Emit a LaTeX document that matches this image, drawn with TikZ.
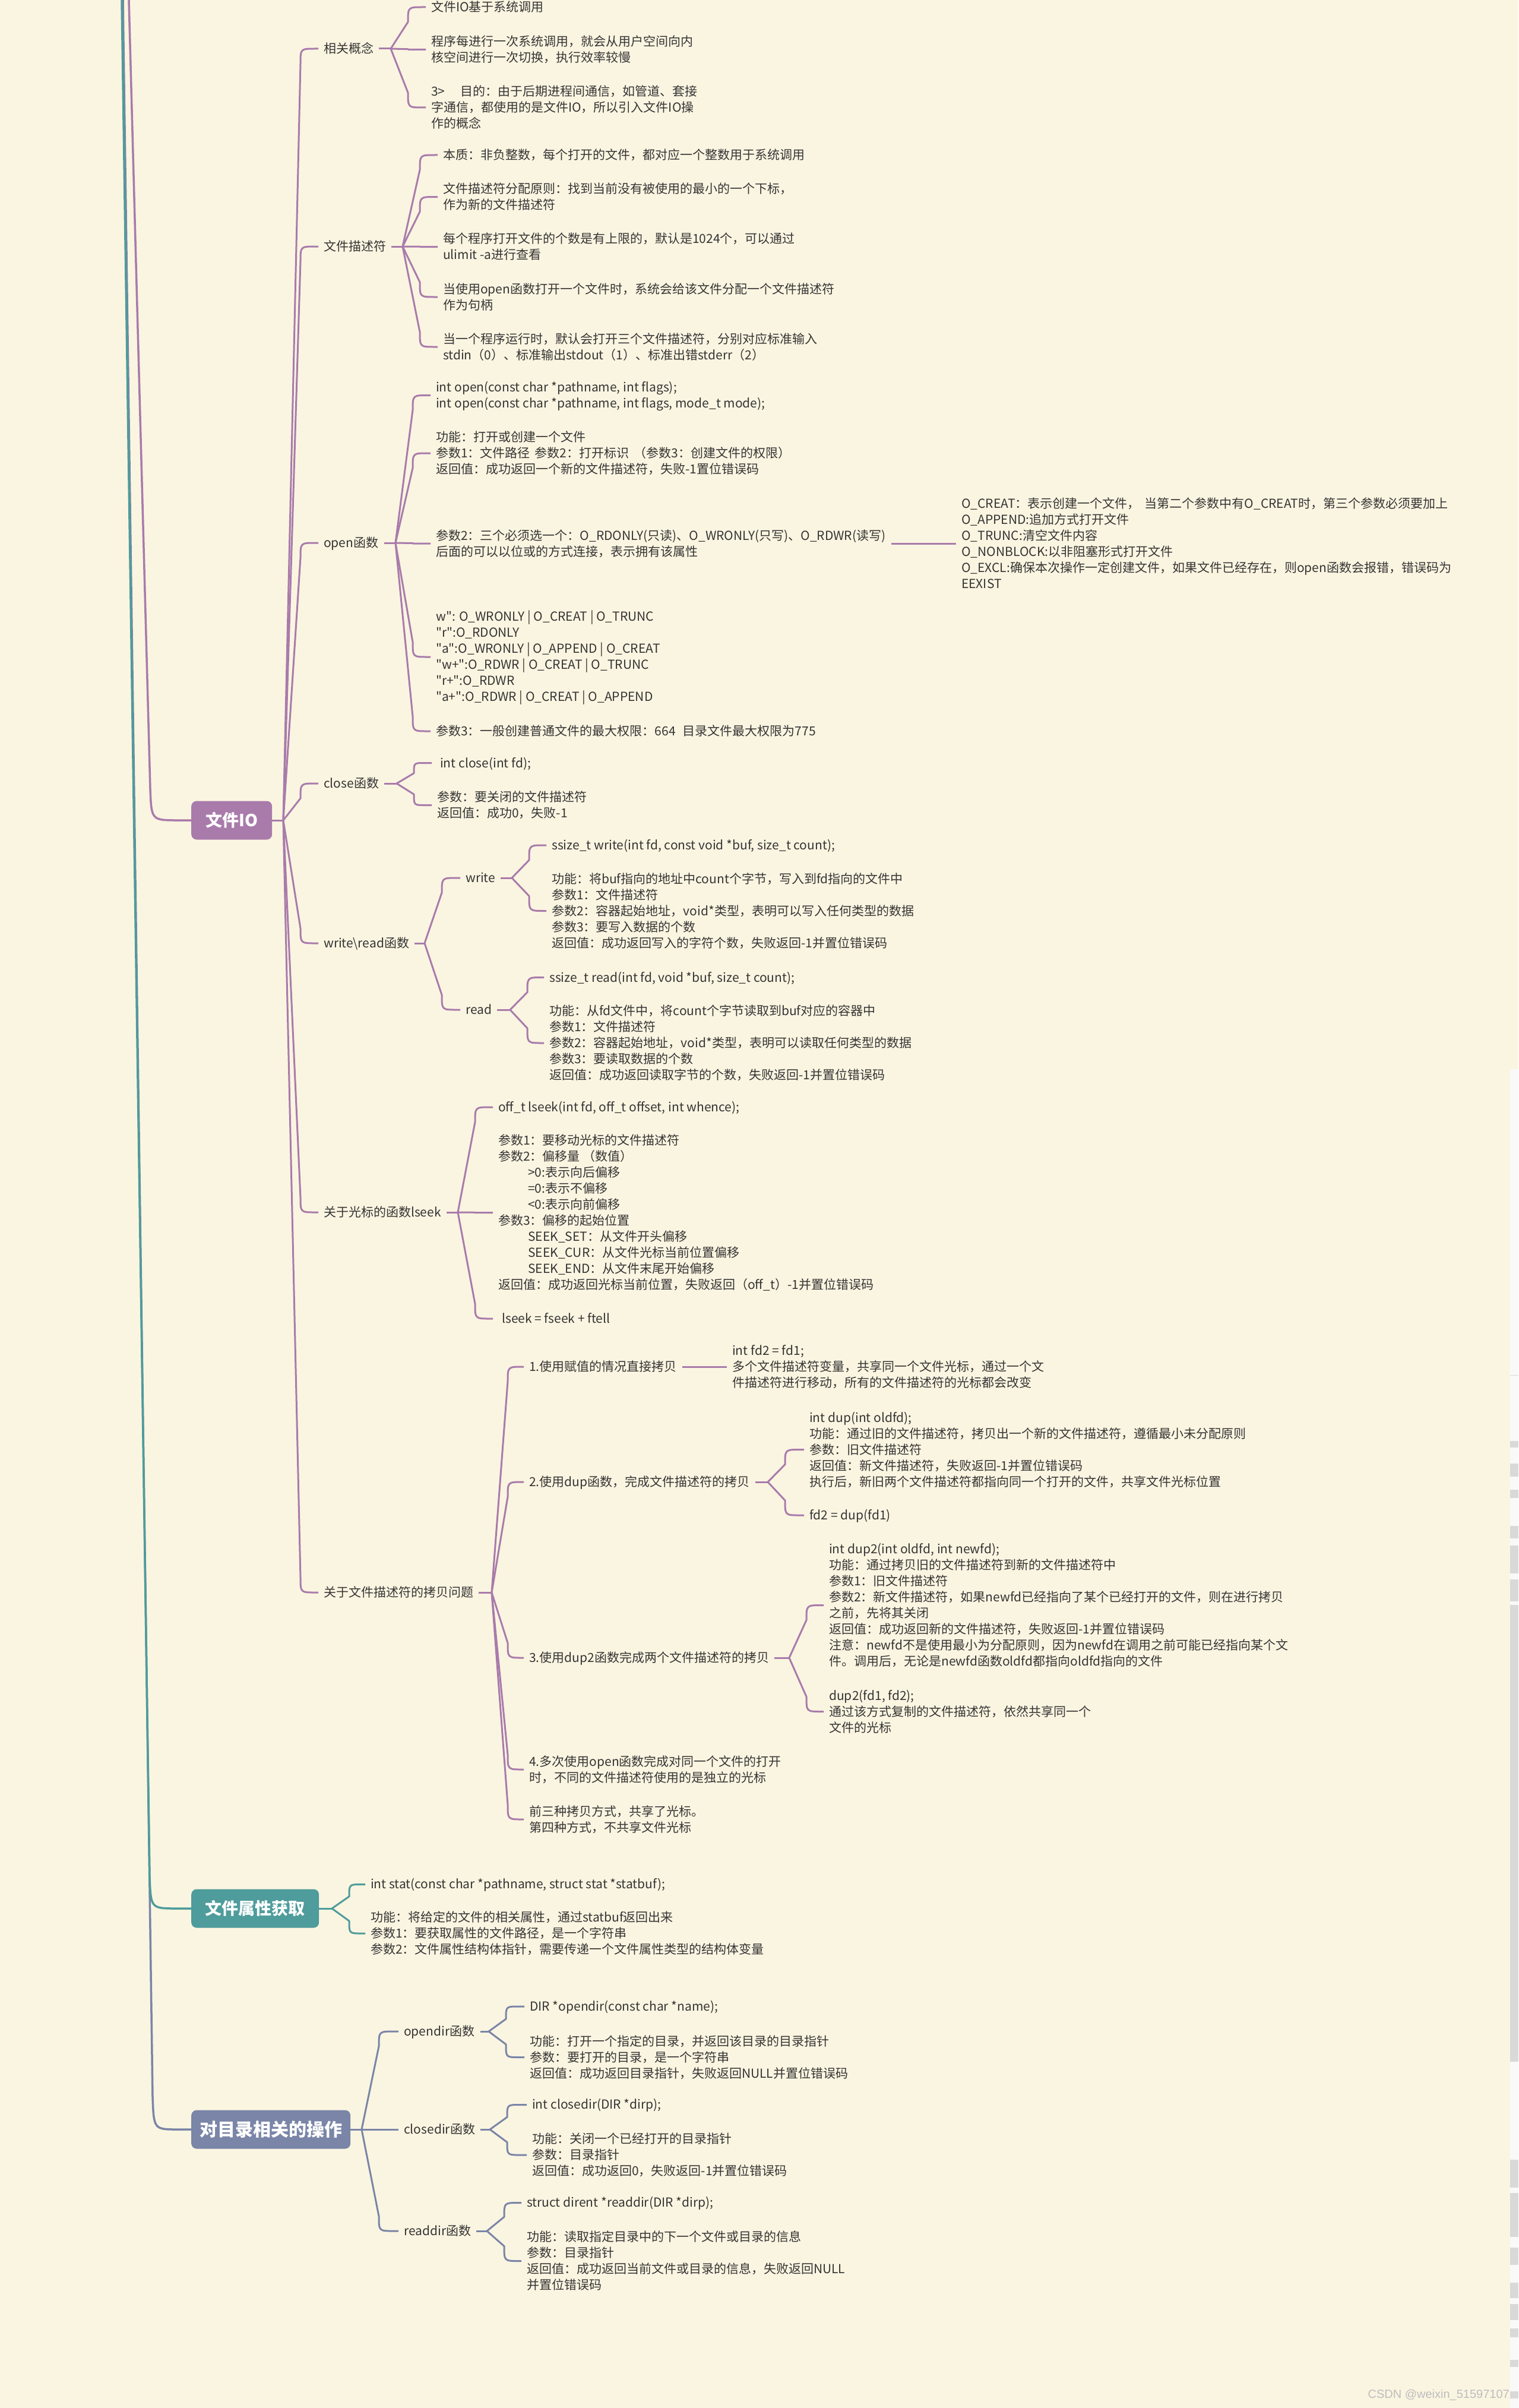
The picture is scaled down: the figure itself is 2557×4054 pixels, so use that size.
\documentclass[tikz,border=0pt]{standalone}
\usepackage{fontspec}
\setmainfont{Noto Sans CJK SC}[Ligatures=TeXOff]
\newfontfamily\wmfont{Liberation Sans}
\usetikzlibrary{calc}
\definecolor{bgc}{HTML}{FAF5E1}
\definecolor{pur}{HTML}{A97BAB}
\definecolor{tea}{HTML}{4E9C9B}
\definecolor{sla}{HTML}{7A85A7}
\definecolor{txc}{HTML}{363434}
\definecolor{wmc}{HTML}{BDBDBD}
\definecolor{stripc}{HTML}{F9F9F9}
\definecolor{barc}{HTML}{D9D9D9}
\newcommand\mySt{\rule[-4.5pt]{0pt}{24pt}}
\newcommand\myNL{\\\mySt}
\newcommand\fsz{\fontsize{21pt}{27pt}\selectfont}
\newcommand\rfsz{\fontsize{28pt}{32pt}\selectfont\bfseries}
\newcommand\rfszb{\fontsize{30pt}{32pt}\selectfont\bfseries}
\newcommand\lk[4]{%
  \draw[#1] let \p1=(#2), \p2=(#3.west),
    \n1={min(25pt,abs(\y2-\y1)/2)*sign(\y2-\y1)},
    \n2={abs(\n1)} in
    (#2) -- (\x1+#4pt,\y2-\n1) .. controls (\x1+#4pt,\y2) .. (\x1+#4pt+\n2,\y2) -- (#3.west);}
\tikzset{
  tx/.style={anchor=west, align=left, inner xsep=9pt, inner ysep=0pt, font=\fsz, text=txc},
  rootn/.style={anchor=west, rounded corners=9pt, fill=#1, text=white, font=\rfsz, minimum height=65pt, inner sep=0pt},
  pl/.style={draw=pur, line width=3pt},
  tl/.style={draw=tea, line width=3pt},
  sl/.style={draw=sla, line width=3pt},
}
\begin{document}
\begin{tikzpicture}[x=1pt,y=-1pt,line join=round]
\useasboundingbox (0,0) rectangle (2557,4054);
\fill[bgc] (0,0) rectangle (2557,4054);
% right edge strip
\fill[stripc] (2543,1800) rectangle (2557,4054);
\draw[barc, line width=1pt] (2543,2315) -- (2557,2315);
\foreach \a/\b in {2426/2437,2464/2486,2508/2522,2569/2590,2602/2649,2659/2696,2702/3471,3636/3683,3692/3766,3784/3813,3843/3869,3879/3906,3920/3935,3973/3985,4026/4038}
  \fill[barc] (2543,\a) rectangle (2557,\b);

% root nodes
\node[rootn=pur, minimum width=136pt] (io) at (322,1381) {文件IO};
\node[rootn=tea, minimum width=215pt] (attr) at (322,3213) {文件属性获取};
\node[rootn=sla, minimum width=268pt, font=\rfszb] (dir) at (322,3585) {对目录相关的操作};

\coordinate (tP) at (217,0);
\coordinate (tT) at (205,0);
\coordinate (tS) at (207,0);
\draw[sla, line width=3.5pt] (tS) -- (257,3530) .. controls (259,3585) .. (300,3585) -- (dir.west);
\draw[tea, line width=3.5pt] (tT) -- (252,3160) .. controls (254,3213) .. (298,3213) -- (attr.west);
\draw[pur, line width=3.5pt] (tP) -- (253,1328) .. controls (255,1381) .. (300,1381) -- (io.west);

% ===== 文件IO =====
\coordinate (hIO) at (477,1381);
\draw[pl] (io.east) -- (hIO);
\node[tx] (A1) at (536,82) {\mySt 相关概念};
\node[tx] (A2) at (536,415) {\mySt 文件描述符};
\node[tx] (A3) at (536,914) {\mySt open函数};
\node[tx] (A4) at (536,1319) {\mySt close函数};
\node[tx] (A5) at (536,1588) {\mySt write\textbackslash read函数};
\node[tx] (A6) at (536,2041) {\mySt 关于光标的函数lseek};
\node[tx] (A7) at (536,2681) {\mySt 关于文件描述符的拷贝问题};
\foreach \c in {A1,A2,A3,A4,A5,A6,A7} {\lk{pl}{hIO}{\c}{29}}

% 相关概念
\coordinate (h1) at (658,82);
\draw[pl] (A1.east) -- (h1);
\node[tx] (a11) at (717,12) {\mySt 文件IO基于系统调用};
\node[tx] (a12) at (717,83.5) {\mySt 程序每进行一次系统调用，就会从用户空间向内\myNL 核空间进行一次切换，执行效率较慢};
\node[tx] (a13) at (717,181) {\mySt 3>\hspace{26pt}目的：由于后期进程间通信，如管道、套接\myNL 字通信，都使用的是文件IO，所以引入文件IO操\myNL 作的概念};
\foreach \c in {a11,a12,a13} {\lk{pl}{h1}{\c}{29}}

% 文件描述符
\coordinate (h2) at (678,415);
\draw[pl] (A2.east) -- (h2);
\node[tx] (a21) at (737,261) {\mySt 本质：非负整数，每个打开的文件，都对应一个整数用于系统调用};
\node[tx] (a22) at (737,331.5) {\mySt 文件描述符分配原则：找到当前没有被使用的最小的一个下标，\myNL 作为新的文件描述符};
\node[tx] (a23) at (737,415.5) {\mySt 每个程序打开文件的个数是有上限的，默认是1024个，可以通过\myNL ulimit -a进行查看};
\node[tx] (a24) at (737,500) {\mySt 当使用open函数打开一个文件时，系统会给该文件分配一个文件描述符\myNL 作为句柄};
\node[tx] (a25) at (737,584) {\mySt 当一个程序运行时，默认会打开三个文件描述符，分别对应标准输入\myNL stdin（0）、标准输出stdout（1）、标准出错stderr（2）};
\foreach \c in {a21,a22,a23,a24,a25} {\lk{pl}{h2}{\c}{29}}

% open函数
\coordinate (h3) at (666,914);
\draw[pl] (A3.east) -- (h3);
\node[tx] (C1) at (725,665.5) {\mySt int open(const char *pathname, int flags);\myNL int open(const char *pathname, int flags, mode\_t mode);};
\node[tx] (C2) at (725,763) {\mySt 功能：打开或创建一个文件\myNL 参数1：文件路径\hspace{8pt}参数2：打开标识\hspace{8pt}（参数3：创建文件的权限）\myNL 返回值：成功返回一个新的文件描述符，失败-1置位错误码};
\node[tx] (C3) at (725,915) {\mySt 参数2：三个必须选一个：O\_RDONLY(只读)、O\_WRONLY(只写)、O\_RDWR(读写)\myNL 后面的可以以位或的方式连接，表示拥有该属性};
\node[tx] (C4) at (725,1106) {\mySt w": O\_WRONLY | O\_CREAT | O\_TRUNC\myNL "r":O\_RDONLY\myNL "a":O\_WRONLY | O\_APPEND | O\_CREAT\myNL "w+":O\_RDWR | O\_CREAT | O\_TRUNC\myNL "r+":O\_RDWR\myNL "a+":O\_RDWR | O\_CREAT | O\_APPEND};
\node[tx] (C5) at (725,1231) {\mySt 参数3：一般创建普通文件的最大权限：664\hspace{12pt}目录文件最大权限为775};
\foreach \c in {C1,C2,C3,C4,C5} {\lk{pl}{h3}{\c}{29}}
\node[tx] (D) at (1610,915) {\mySt O\_CREAT：表示创建一个文件，\hspace{8pt}当第二个参数中有O\_CREAT时，第三个参数必须要加上\myNL O\_APPEND:追加方式打开文件\myNL O\_TRUNC:清空文件内容\myNL O\_NONBLOCK:以非阻塞形式打开文件\myNL O\_EXCL:确保本次操作一定创建文件，如果文件已经存在，则open函数会报错，错误码为\myNL EEXIST};
\draw[pl] (C3.east) -- (D.west);

% close函数
\coordinate (h4) at (668,1319);
\draw[pl] (A4.east) -- (h4);
\node[tx] (d1) at (727,1284.5) {\mySt \hspace{5pt}int close(int fd);};
\node[tx] (d2) at (727,1355.5) {\mySt 参数：要关闭的文件描述符\myNL 返回值：成功0，失败-1};
\foreach \c in {d1,d2} {\lk{pl}{h4}{\c}{29}}

% write/read
\coordinate (h5) at (715,1588);
\draw[pl] (A5.east) -- (h5);
\node[tx] (W) at (775,1478) {\mySt write};
\node[tx] (R) at (775,1700) {\mySt read};
\foreach \c in {W,R} {\lk{pl}{h5}{\c}{29}}
\coordinate (hw) at (862,1478);
\draw[pl] (W.east) -- (hw);
\node[tx] (w1) at (920,1423) {\mySt ssize\_t write(int fd, const void *buf, size\_t count);};
\node[tx] (w2) at (920,1533.5) {\mySt 功能：将buf指向的地址中count个字节，写入到fd指向的文件中\myNL 参数1：文件描述符\myNL 参数2：容器起始地址，void*类型，表明可以写入任何类型的数据\myNL 参数3：要写入数据的个数\myNL 返回值：成功返回写入的字符个数，失败返回-1并置位错误码};
\foreach \c in {w1,w2} {\lk{pl}{hw}{\c}{29}}
\coordinate (hr) at (859,1700);
\draw[pl] (R.east) -- (hr);
\node[tx] (r1) at (916,1645.5) {\mySt ssize\_t read(int fd, void *buf, size\_t count);};
\node[tx] (r2) at (916,1756) {\mySt 功能：从fd文件中，将count个字节读取到buf对应的容器中\myNL 参数1：文件描述符\myNL 参数2：容器起始地址，void*类型，表明可以读取任何类型的数据\myNL 参数3：要读取数据的个数\myNL 返回值：成功返回读取字节的个数，失败返回-1并置位错误码};
\foreach \c in {r1,r2} {\lk{pl}{hr}{\c}{29}}

% lseek
\coordinate (h6) at (771,2041);
\draw[pl] (A6.east) -- (h6);
\node[tx] (l1) at (830,1864) {\mySt off\_t lseek(int fd, off\_t offset, int whence);};
\node[tx] (l2) at (830,2041.5) {\mySt 参数1：要移动光标的文件描述符\myNL 参数2：偏移量 （数值）\myNL\hspace*{50pt}>0:表示向后偏移\myNL\hspace*{50pt}=0:表示不偏移\myNL\hspace*{50pt}<0:表示向前偏移\myNL 参数3：偏移的起始位置\myNL\hspace*{50pt}SEEK\_SET：从文件开头偏移\myNL\hspace*{50pt}SEEK\_CUR：从文件光标当前位置偏移\myNL\hspace*{50pt}SEEK\_END：从文件末尾开始偏移\myNL 返回值：成功返回光标当前位置，失败返回（off\_t）-1并置位错误码};
\node[tx] (l3) at (830,2220) {\mySt \hspace{6pt}lseek = fseek + ftell};
\foreach \c in {l1,l2,l3} {\lk{pl}{h6}{\c}{29}}

% 拷贝问题
\coordinate (h7) at (828,2681);
\draw[pl] (A7.east) -- (h7);
\node[tx] (B1) at (882,2301) {\mySt 1.使用赋值的情况直接拷贝};
\node[tx] (B2) at (882,2495) {\mySt 2.使用dup函数，完成文件描述符的拷贝};
\node[tx] (B3) at (882,2791) {\mySt 3.使用dup2函数完成两个文件描述符的拷贝};
\node[tx] (B4) at (882,2979) {\mySt 4.多次使用open函数完成对同一个文件的打开\myNL 时，不同的文件描述符使用的是独立的光标};
\node[tx] (B5) at (882,3063) {\mySt 前三种拷贝方式，共享了光标。\myNL 第四种方式，不共享文件光标};
\foreach \c in {B1,B2,B3,B4,B5} {\lk{pl}{h7}{\c}{27}}
\node[tx] (B1c) at (1224,2301) {\mySt int fd2 = fd1;\myNL 多个文件描述符变量，共享同一个文件光标，通过一个文\myNL 件描述符进行移动，所有的文件描述符的光标都会改变};
\draw[pl] (B1.east) -- (B1c.west);
\coordinate (hb2) at (1293,2495);
\draw[pl] (B2.east) -- (hb2);
\node[tx] (B2a) at (1354,2440.5) {\mySt int dup(int oldfd);\myNL 功能：通过旧的文件描述符，拷贝出一个新的文件描述符，遵循最小未分配原则\myNL 参数：旧文件描述符\myNL 返回值：新文件描述符，失败返回-1并置位错误码\myNL 执行后，新旧两个文件描述符都指向同一个打开的文件，共享文件光标位置};
\node[tx] (B2b) at (1354,2551) {\mySt fd2 = dup(fd1)};
\foreach \c in {B2a,B2b} {\lk{pl}{hb2}{\c}{29}}
\coordinate (hb3) at (1329,2791);
\draw[pl] (B3.east) -- (hb3);
\node[tx] (B3a) at (1387,2702.5) {\mySt int dup2(int oldfd, int newfd);\myNL 功能：通过拷贝旧的文件描述符到新的文件描述符中\myNL 参数1：旧文件描述符\myNL 参数2：新文件描述符，如果newfd已经指向了某个已经打开的文件，则在进行拷贝\myNL 之前，先将其关闭\myNL 返回值：成功返回新的文件描述符，失败返回-1并置位错误码\myNL 注意：newfd不是使用最小为分配原则，因为newfd在调用之前可能已经指向某个文\myNL 件。调用后，无论是newfd函数oldfd都指向oldfd指向的文件};
\node[tx] (B3b) at (1387,2881.5) {\mySt dup2(fd1, fd2);\myNL 通过该方式复制的文件描述符，依然共享同一个\myNL 文件的光标};
\foreach \c in {B3a,B3b} {\lk{pl}{hb3}{\c}{29}}

% ===== 文件属性获取 =====
\coordinate (ha) at (559,3213);
\draw[tl] (attr.east) -- (ha);
\node[tx] (s1) at (615,3172.5) {\mySt int stat(const char *pathname, struct stat *statbuf);};
\node[tx] (s2) at (615,3255) {\mySt 功能：将给定的文件的相关属性，通过statbuf返回出来\myNL 参数1：要获取属性的文件路径，是一个字符串\myNL 参数2：文件属性结构体指针，需要传递一个文件属性类型的结构体变量};
\foreach \c in {s1,s2} {\lk{tl}{ha}{\c}{29}}

% ===== 对目录相关的操作 =====
\coordinate (hd) at (609,3585);
\draw[sl] (dir.east) -- (hd);
\node[tx] (O) at (671,3420) {\mySt opendir函数};
\node[tx] (K) at (671,3585) {\mySt closedir函数};
\node[tx] (E) at (671,3756) {\mySt readdir函数};
\foreach \c in {O,K,E} {\lk{sl}{hd}{\c}{29}}
\coordinate (ho) at (823,3420);
\draw[sl] (O.east) -- (ho);
\node[tx] (o1) at (883,3378) {\mySt DIR *opendir(const char *name);};
\node[tx] (o2) at (883,3463.5) {\mySt 功能：打开一个指定的目录，并返回该目录的目录指针\myNL 参数：要打开的目录，是一个字符串\myNL 返回值：成功返回目录指针，失败返回NULL并置位错误码};
\foreach \c in {o1,o2} {\lk{sl}{ho}{\c}{29}}
\coordinate (hk) at (825,3585);
\draw[sl] (K.east) -- (hk);
\node[tx] (k1) at (887,3543.5) {\mySt int closedir(DIR *dirp);};
\node[tx] (k2) at (887,3628) {\mySt 功能：关闭一个已经打开的目录指针\myNL 参数：目录指针\myNL 返回值：成功返回0，失败返回-1并置位错误码};
\foreach \c in {k1,k2} {\lk{sl}{hk}{\c}{29}}
\coordinate (he) at (820,3756);
\draw[sl] (E.east) -- (he);
\node[tx] (e1) at (878,3708.5) {\mySt struct dirent *readdir(DIR *dirp);};
\node[tx] (e2) at (878,3806.5) {\mySt 功能：读取指定目录中的下一个文件或目录的信息\myNL 参数：目录指针\myNL 返回值：成功返回当前文件或目录的信息，失败返回NULL\myNL 并置位错误码};
\foreach \c in {e1,e2} {\lk{sl}{he}{\c}{29}}

% watermark
\node[anchor=south east, inner sep=0pt, font=\wmfont\fontsize{20pt}{22pt}\selectfont, text=wmc] (wm) at (2542,4042) {CSDN @weixin\_51597107};
\end{tikzpicture}
\end{document}
